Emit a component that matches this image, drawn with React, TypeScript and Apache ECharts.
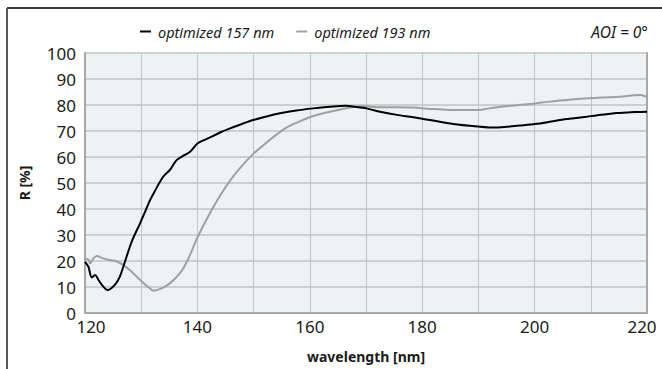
import React, { useEffect, useRef } from "react";
import * as echarts from "echarts";

const xTicks = [120, 140, 160, 180, 200, 220];
const yTicks = [0, 10, 20, 30, 40, 50, 60, 70, 80, 90, 100];

const wl157: number[] = [120, 120.6, 121.2, 121.8, 122.4, 123, 124, 125.3, 126.2, 127.1, 128.3, 129.8, 130.4, 131.6, 132.2, 133.9, 135.1, 136.3, 137.5, 138.7, 140, 141.5, 142.8, 144.3, 145.8, 147.8, 149.9, 152.3, 154.7, 157.6, 160.6, 163, 165.4, 166.5, 167.7, 170.1, 172.5, 175.5, 178.4, 181.4, 185.5, 190, 192.7, 195, 197.4, 200.1, 202.3, 204.5, 207, 209.3, 211, 212.8, 214.6, 216.4, 218, 220];
const r157: number[] = [19.7, 17.8, 13.7, 14.6, 12.7, 10.8, 8.8, 10.8, 14, 19.7, 27.4, 34.5, 37.5, 43.5, 46, 52.4, 55, 58.8, 60.5, 62, 65.2, 66.8, 68.1, 69.7, 71, 72.6, 74.2, 75.6, 76.8, 77.9, 78.7, 79.2, 79.6, 79.7, 79.4, 78.7, 77.4, 76.2, 75.3, 74.2, 72.7, 71.7, 71.3, 71.6, 72.1, 72.7, 73.4, 74.2, 74.9, 75.5, 76, 76.4, 76.9, 77.1, 77.3, 77.4];

const wl193: number[] = [120, 120.7, 120.9, 121.5, 122.1, 123, 123.9, 125.3, 126.8, 128.3, 129.8, 131.3, 132.2, 133.6, 135.1, 136.9, 138.3, 140, 142, 144, 146, 148, 150, 152, 154, 156, 158, 160, 163, 165.4, 167.5, 169.5, 172.5, 175.5, 178.4, 181.4, 185.5, 190, 191.9, 194.4, 197.2, 200.1, 202.3, 204.5, 207, 209.3, 212.3, 215.2, 218.8, 220];
const r193: number[] = [21, 20.4, 19.1, 21, 21.9, 21.2, 20.6, 20.1, 18.5, 15.9, 12.7, 9.9, 8.6, 9.5, 11.4, 15.3, 20.5, 29, 37.5, 45, 51.5, 56.8, 61.3, 65, 68.5, 71.5, 73.5, 75.3, 77.1, 78.3, 79.1, 79.6, 79.1, 79.1, 79, 78.5, 78.1, 78.1, 78.7, 79.4, 80, 80.6, 81.2, 81.7, 82.2, 82.6, 82.9, 83.2, 83.8, 83.2];

const seriesNames = ["optimized 157 nm", "optimized 193 nm"];
const noteText = "AOI = 0°";

export default function App() {
  const ref = useRef<HTMLDivElement>(null);
  useEffect(() => {
    document.body.style.margin = "0";
    const chart = echarts.init(ref.current!, undefined, { renderer: "svg" });
    const font = "'Noto Sans', 'Open Sans', sans-serif";
    const gridColor = "#c2c4c6";
    const axisColor = "#a8a8a8";
    chart.setOption({
      animation: false,
      backgroundColor: "#ffffff",
      textStyle: { fontFamily: font },
      grid: { left: 85, top: 53, width: 562, height: 260, show: true, backgroundColor: "#edf2f4", borderWidth: 0 },
      legend: {
        left: 140,
        top: 24,
        padding: 0,
        itemWidth: 11,
        itemHeight: 2,
        itemGap: 22,
        icon: "rect",
        textStyle: { fontFamily: font, fontStyle: "italic", fontSize: 14.5, color: "#1a1a1a", padding: [0, 0, 0, 2] },
        data: seriesNames,
      },
      graphic: [
        { type: "line", shape: { x1: 7, y1: 8, x2: 662, y2: 8 }, style: { stroke: "#000", lineWidth: 1.5 } },
        { type: "line", shape: { x1: 7, y1: 8, x2: 7, y2: 369 }, style: { stroke: "#555", lineWidth: 2 } },
        {
          type: "text",
          right: 14,
          top: 24,
          style: { text: noteText, fontFamily: font, fontStyle: "italic", fontSize: 15.5, fill: "#1a1a1a" },
        },
      ],
      xAxis: {
        type: "value",
        min: 120,
        max: 220,
        interval: 10,
        name: "wavelength [nm]",
        nameLocation: "middle",
        nameGap: 36,
        nameTextStyle: { fontFamily: font, fontWeight: "bold", fontSize: 14, color: "#1a1a1a" },
        axisLine: { show: true, lineStyle: { color: axisColor, width: 2 } },
        axisTick: { show: false },
        axisLabel: {
          fontFamily: font,
          fontSize: 17,
          color: "#1a1a1a",
          margin: 5,
          formatter: (v: number) => {
            if (!xTicks.includes(v)) return "";
            if (v === 120) return "{l|" + v + "}";
            if (v === 220) return "{r|" + v + "}";
            return String(v);
          },
          rich: {
            l: { fontFamily: font, fontSize: 17, color: "#1a1a1a", padding: [0, 0, 0, 12] },
            r: { fontFamily: font, fontSize: 17, color: "#1a1a1a", padding: [0, 10, 0, 0] },
          },
        },
        splitLine: { show: true, lineStyle: { color: gridColor, width: 1 } },
      },
      yAxis: [
        {
          type: "value",
          min: 0,
          max: 100,
          interval: 10,
          name: "R [%]",
          nameLocation: "middle",
          nameGap: 54,
          nameRotate: 90,
          nameTextStyle: { fontFamily: font, fontWeight: "bold", fontSize: 14, color: "#1a1a1a" },
          axisLine: { show: true, lineStyle: { color: axisColor, width: 2 } },
          axisTick: { show: false },
          axisLabel: {
            fontFamily: font,
            fontSize: 17,
            color: "#1a1a1a",
            margin: 9,
            formatter: (v: number) => (yTicks.includes(v) ? String(v) : ""),
          },
          splitLine: { show: true, lineStyle: { color: gridColor, width: 1.5 } },
        },
        {
          type: "value",
          min: 0,
          max: 100,
          interval: 10,
          position: "right",
          axisLine: { show: true, lineStyle: { color: axisColor, width: 2 } },
          axisTick: { show: false },
          axisLabel: { show: false },
          splitLine: { show: false },
        },
      ],
      series: [
        {
          name: seriesNames[0],
          type: "line",
          data: wl157.map((x, i) => [x, r157[i]]),
          showSymbol: false,
          smooth: 0.3,
          lineStyle: { color: "#000000", width: 2 },
          itemStyle: { color: "#000000" },
          z: 3,
        },
        {
          name: seriesNames[1],
          type: "line",
          data: wl193.map((x, i) => [x, r193[i]]),
          showSymbol: false,
          smooth: 0.3,
          lineStyle: { color: "#a0a0a0", width: 2 },
          itemStyle: { color: "#a0a0a0" },
          z: 2,
        },
      ],
    });
    return () => chart.dispose();
  }, []);
  return <div ref={ref} style={{ width: 662, height: 369 }} />;
}
